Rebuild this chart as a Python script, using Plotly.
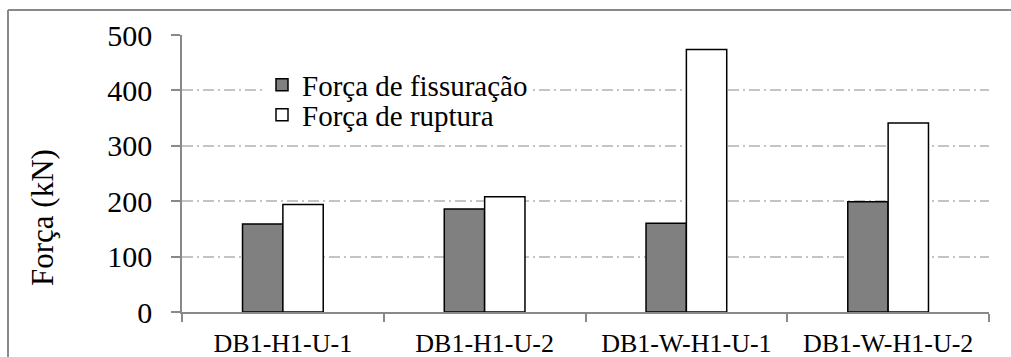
import plotly.graph_objects as go

# Ensaios e forças medidas (kN)
categorias = ["DB1-H1-U-1", "DB1-H1-U-2", "DB1-W-H1-U-1", "DB1-W-H1-U-2"]
forca_fissuracao = [159, 186, 160, 199]
forca_ruptura = [194, 208, 474, 341]
y_ticks = [0, 100, 200, 300, 400, 500]

W, H = 1011, 357
ML, MR, MT, MB = 182, 22, 35, 45
PW, PH = W - ML - MR, H - MT - MB

FONT = "Times New Roman"

fig = go.Figure()
fig.add_trace(go.Bar(
    x=categorias, y=forca_fissuracao, name="Força de fissuração",
    marker=dict(color="#808080", line=dict(color="black", width=1.5)),
    legend="legend",
))
fig.add_trace(go.Bar(
    x=categorias, y=forca_ruptura, name="Força de ruptura",
    marker=dict(color="white", line=dict(color="black", width=1.5)),
    legend="legend2",
))

# conversão de pixels da página para coordenadas "paper"
def px_x(p):
    return (p - ML) / PW

def px_y(p):
    return (H - MB - p) / PH

# moldura externa (apenas topo e esquerda visíveis)
frame = dict(color="#898989", width=2)
fig.add_shape(type="line", xref="paper", yref="paper",
              x0=px_x(8), x1=px_x(1030), y0=px_y(10), y1=px_y(10), line=frame)
fig.add_shape(type="line", xref="paper", yref="paper",
              x0=px_x(8), x1=px_x(8), y0=px_y(10), y1=px_y(380), line=frame)

# caixa branca da legenda (oculta a grade sob ela)
fig.add_shape(type="rect", xref="paper", yref="paper", layer="between",
              x0=px_x(203), x1=px_x(600), y0=px_y(60), y1=px_y(130),
              fillcolor="white", line=dict(width=0))

fig.add_annotation(
    text="Força (kN)", textangle=-90, xref="paper", yref="paper",
    x=px_x(42), y=px_y(218), xanchor="center", yanchor="middle",
    showarrow=False, font=dict(family=FONT, size=31, color="black"),
)

legend_font = dict(family=FONT, size=29, color="black")

fig.update_layout(
    template="none",
    width=W, height=H,
    margin=dict(l=ML, r=MR, t=MT, b=MB, pad=0),
    paper_bgcolor="white", plot_bgcolor="white",
    barmode="group", bargap=0.6, bargroupgap=0,
    font=dict(family=FONT, color="black"),
    showlegend=True,
    legend=dict(x=px_x(262), y=px_y(85), xanchor="left", yanchor="middle",
                bgcolor="white", borderwidth=0, font=legend_font),
    legend2=dict(x=px_x(262), y=px_y(115), xanchor="left", yanchor="middle",
                 bgcolor="rgba(255,255,255,0)", borderwidth=0, font=legend_font),
)
fig.update_xaxes(
    type="category", tickson="boundaries", ticks="outside", ticklen=8,
    tickcolor="#898989", tickwidth=1.5, automargin=False,
    showline=True, linecolor="#898989", linewidth=1.5,
    showgrid=False, tickfont=dict(family=FONT, size=26, color="black"),
    ticklabelstandoff=7, mirror=False,
)
fig.update_yaxes(
    range=[0, 500], tickvals=y_ticks, ticks="outside", ticklen=9,
    tickcolor="#898989", tickwidth=1.5, automargin=False,
    showline=True, linecolor="#898989", linewidth=1.5,
    showgrid=True, gridcolor="#c4c4c4", gridwidth=1.5,
    griddash="11px,4px,2px,4px", zeroline=False,
    tickfont=dict(family=FONT, size=30, color="black"),
    ticklabelstandoff=13,
)

fig.write_html("out.html")
